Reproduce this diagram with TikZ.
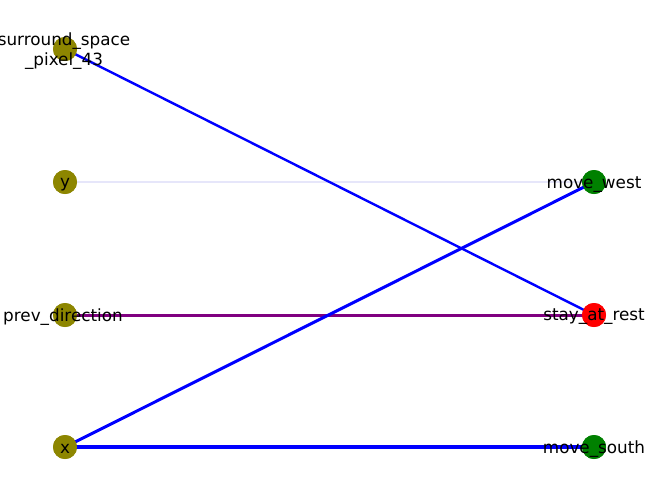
\documentclass[tikz,border=0pt]{standalone}
\usepackage{fontspec}
\setmainfont{DejaVu Sans}
\begin{document}
\begin{tikzpicture}[x=1pt,y=-1pt,
  dot/.style={circle,inner sep=0pt,minimum size=24pt},
  leftdot/.style={dot,fill=olive},
  actdot/.style={dot,fill=green!50!black},
  restdot/.style={dot,fill=red},
  lbl/.style={font=\fontsize{16.8}{20}\selectfont,inner sep=0pt,align=center},
  edge/.style={line width=#1},
]
\useasboundingbox (0,0) rectangle (660,499);
% nodes
\node[leftdot] (s) at (65,49) {};
\node[leftdot] (y) at (65,182) {};
\node[leftdot] (p) at (65,315) {};
\node[leftdot] (x) at (65,447) {};
\node[actdot] (w) at (594,182) {};
\node[restdot] (r) at (594,315) {};
\node[actdot] (so) at (594,447) {};
% edges
\draw[edge=1.3pt,color={rgb,255:red,230;green,230;blue,250}] (y.center) -- (w.center);
\draw[edge=2.4pt,blue] (s.center) -- (r.center);
\draw[edge=3pt,color={rgb,255:red,128;green,0;blue,128}] (p.center) -- (r.center);
\draw[edge=3pt,blue] (x.center) -- (w.center);
\draw[edge=3.6pt,blue] (x.center) -- (so.center);
% redraw nodes on top
\node[leftdot] at (s) {};
\node[leftdot] at (y) {};
\node[leftdot] at (p) {};
\node[leftdot] at (x) {};
\node[actdot] at (w) {};
\node[restdot] at (r) {};
\node[actdot] at (so) {};
% labels
\node[lbl] (ls) at (64,51) {surround\_space\\\_pixel\_43};
\node[lbl] (ly) at (65,185) {y};
\node[lbl] (lp) at (63,317) {prev\_direction};
\node[lbl] (lx) at (65,449) {x};
\node[lbl] (lw) at (594,185) {move\_west};
\node[lbl] (lr) at (594,317) {stay\_at\_rest};
\node[lbl] (lso) at (594,449) {move\_south};
\end{tikzpicture}
\end{document}
